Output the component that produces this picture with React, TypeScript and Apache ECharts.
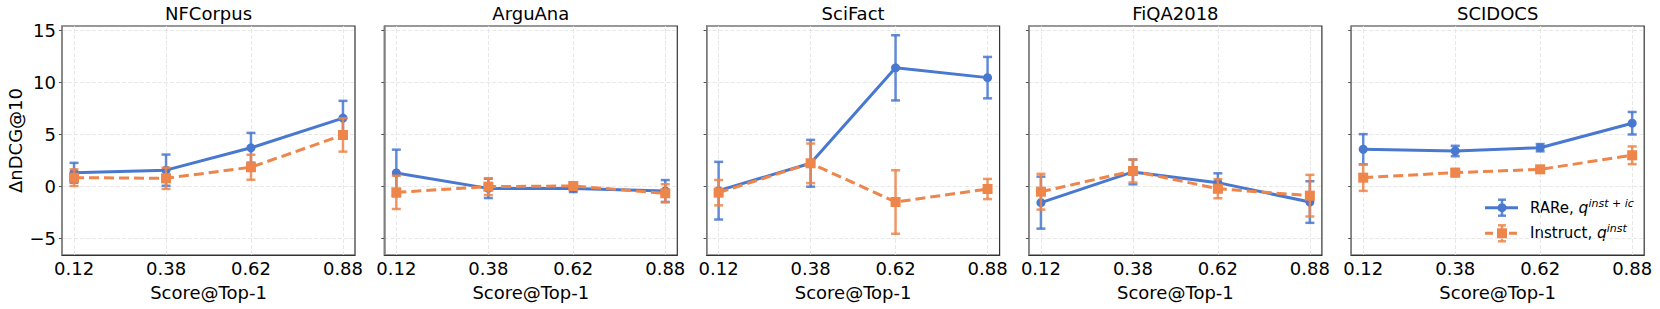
import React, { useEffect, useRef } from "react";
import * as echarts from "echarts";

const categories = [0.12, 0.38, 0.62, 0.88];
const yTicks = [-5, 0, 5, 10, 15];
const datasets = ["NFCorpus", "ArguAna", "SciFact", "FiQA2018", "SCIDOCS"];

const rareMean = [
  [1.3, 1.55, 3.7, 6.55],
  [1.28, -0.2, -0.2, -0.45],
  [-0.42, 2.21, 11.38, 10.44],
  [-1.57, 1.38, 0.35, -1.51],
  [3.56, 3.39, 3.71, 6.06],
];
const rareErr = [
  [0.95, 1.5, 1.43, 1.66],
  [2.24, 0.93, 0.35, 1.05],
  [2.77, 2.25, 3.13, 1.99],
  [2.5, 1.19, 0.9, 2.0],
  [1.45, 0.5, 0.35, 1.08],
];
const instMean = [
  [0.83, 0.77, 1.83, 4.93],
  [-0.58, -0.03, 0.03, -0.67],
  [-0.61, 2.21, -1.51, -0.26],
  [-0.52, 1.47, -0.23, -0.9],
  [0.83, 1.31, 1.63, 2.98],
];
const instErr = [
  [0.8, 1.02, 1.2, 1.6],
  [1.6, 0.81, 0.2, 0.87],
  [1.22, 1.9, 3.05, 0.97],
  [1.72, 1.1, 0.92, 2.0],
  [1.27, 0.35, 0.25, 0.85],
];

const BLUE = "#4878d0";
const ORANGE = "#ee854a";
const FONT = "DejaVu Sans";

const GRID_LEFT0 = 62;
const GRID_STEP = 322.3;
const GRID_W = 293;
const GRID_TOP = 26;
const GRID_H = 229;

function errRender(color: string) {
  return (params: any, api: any) => {
    const x = api.value(0);
    const lo = api.value(1);
    const hi = api.value(2);
    const p1 = api.coord([x, hi]);
    const p2 = api.coord([x, lo]);
    const w = 4.5;
    const st = { stroke: color, lineWidth: 2.5, opacity: 0.85 };
    return {
      type: "group",
      children: [
        { type: "line", shape: { x1: p1[0], y1: p1[1], x2: p2[0], y2: p2[1] }, style: st },
        { type: "line", shape: { x1: p1[0] - w, y1: p1[1], x2: p1[0] + w, y2: p1[1] }, style: st },
        { type: "line", shape: { x1: p2[0] - w, y1: p2[1], x2: p2[0] + w, y2: p2[1] }, style: st },
      ],
    };
  };
}

export default function App() {
  const ref = useRef<HTMLDivElement>(null);
  useEffect(() => {
    if (!ref.current) return;
    const chart = echarts.init(ref.current, null, { renderer: "svg" });
    const grids: any[] = [];
    const xAxes: any[] = [];
    const yAxes: any[] = [];
    const titles: any[] = [];
    const series: any[] = [];
    datasets.forEach((name, i) => {
      const left = GRID_LEFT0 + i * GRID_STEP;
      grids.push({
        left,
        top: GRID_TOP,
        width: GRID_W,
        height: GRID_H,
        show: true,
        borderColor: "#333",
        borderWidth: 1.2,
        backgroundColor: "transparent",
      });
      titles.push({
        text: name,
        left: left + GRID_W / 2,
        top: 4,
        textAlign: "center",
        padding: 0,
        textStyle: { fontFamily: FONT, fontSize: 18, fontWeight: "normal", color: "#000" },
      });
      xAxes.push({
        type: "value",
        gridIndex: i,
        min: 0.086,
        max: 0.914,
        name: "Score@Top-1",
        nameLocation: "middle",
        nameGap: 28,
        nameTextStyle: { fontFamily: FONT, fontSize: 18, color: "#000" },
        axisLine: { show: true, onZero: false, lineStyle: { color: "#333", width: 1.2 } },
        axisTick: { show: false, customValues: categories },
        axisLabel: {
          customValues: categories,
          formatter: (v: number) => v.toFixed(2),
          fontFamily: FONT,
          fontSize: 18,
          color: "#000",
          margin: 4,
        },
        splitLine: { show: false },
      });
      yAxes.push({
        type: "value",
        gridIndex: i,
        min: -6.6,
        max: 15.4,
        name: i === 0 ? "ΔnDCG@10" : "",
        nameLocation: "middle",
        nameRotate: 90,
        nameGap: 38,
        nameTextStyle: { fontFamily: FONT, fontSize: 18, color: "#000" },
        axisLine: { show: true, onZero: false, lineStyle: { color: "#8c8c8c", width: 1.6 } },
        axisTick: { show: true, length: 3, customValues: yTicks, lineStyle: { color: "#555", width: 1 } },
        axisLabel: {
          show: i === 0,
          customValues: yTicks,
          formatter: (v: number) => (v < 0 ? "\u2212" + Math.abs(v) : String(v)),
          fontFamily: FONT,
          fontSize: 18,
          color: "#000",
          margin: 6,
        },
        splitLine: { show: false },
      });
      // grid lines
      series.push({
        type: "line",
        xAxisIndex: i,
        yAxisIndex: i,
        data: [],
        silent: true,
        z: 0,
        markLine: {
          silent: true,
          symbol: "none",
          z: 0,
          label: { show: false },
          lineStyle: { color: "#e2e2e2", type: [4, 2], width: 0.8 },
          data: [
            ...categories.map((x) => ({ xAxis: x })),
            ...yTicks.map((y) => ({ yAxis: y })),
          ],
        },
      });
      const pairs = [
        { mean: rareMean[i], err: rareErr[i], color: BLUE, symbol: "circle", dashed: false, name: "RARe" },
        { mean: instMean[i], err: instErr[i], color: ORANGE, symbol: "rect", dashed: true, name: "Instruct" },
      ];
      pairs.forEach((p, k) => {
        series.push({
          type: "custom",
          xAxisIndex: i,
          yAxisIndex: i,
          z: 2 + k * 2,
          renderItem: errRender(p.color),
          encode: { x: 0, y: [1, 2] },
          data: categories.map((x, j) => [x, p.mean[j] - p.err[j], p.mean[j] + p.err[j]]),
          silent: true,
        });
        series.push({
          type: "line",
          name: p.name,
          xAxisIndex: i,
          yAxisIndex: i,
          z: 3 + k * 2,
          data: categories.map((x, j) => [x, p.mean[j]]),
          symbol: p.symbol,
          symbolSize: p.symbol === "circle" ? 9 : 10,
          showSymbol: true,
          itemStyle: { color: p.color },
          lineStyle: { color: p.color, width: 3, type: p.dashed ? [10, 5] : "solid" },
          silent: true,
        });
      });
    });

    const legendX = 1485;
    const legendRows = [
      { y: 207.7, color: BLUE, symbol: "circle", dashed: false, text: "RARe, {q|q}{sup|inst + ic}" },
      { y: 233.3, color: ORANGE, symbol: "rect", dashed: true, text: "Instruct, {q|q}{sup|inst}" },
    ];
    const graphic: any[] = [];
    legendRows.forEach((r) => {
      const cx = legendX + 17;
      graphic.push({
        type: "line",
        shape: { x1: legendX, y1: r.y, x2: legendX + 33, y2: r.y },
        style: { stroke: r.color, lineWidth: 3, lineDash: r.dashed ? [8, 4] : null },
      });
      graphic.push({
        type: "line",
        shape: { x1: cx, y1: r.y - 8, x2: cx, y2: r.y + 8 },
        style: { stroke: r.color, lineWidth: 2.5, opacity: 0.85 },
      });
      graphic.push({
        type: "line",
        shape: { x1: cx - 4, y1: r.y - 8, x2: cx + 4, y2: r.y - 8 },
        style: { stroke: r.color, lineWidth: 2.5, opacity: 0.85 },
      });
      graphic.push({
        type: "line",
        shape: { x1: cx - 4, y1: r.y + 8, x2: cx + 4, y2: r.y + 8 },
        style: { stroke: r.color, lineWidth: 2.5, opacity: 0.85 },
      });
      if (r.symbol === "circle") {
        graphic.push({ type: "circle", shape: { cx, cy: r.y, r: 4.5 }, style: { fill: r.color } });
      } else {
        graphic.push({ type: "rect", shape: { x: cx - 5, y: r.y - 5, width: 10, height: 10 }, style: { fill: r.color } });
      }
      graphic.push({
        type: "text",
        x: 1530,
        y: r.y,
        style: {
          text: r.text,
          fontFamily: FONT,
          fontSize: 15,
          fill: "#000",
          verticalAlign: "middle",
          rich: {
            q: { fontFamily: FONT, fontSize: 15.5, fontStyle: "italic", fill: "#000", lineHeight: 20, verticalAlign: "middle" },
            sup: { fontFamily: FONT, fontSize: 11, fontStyle: "italic", fill: "#000", lineHeight: 12, verticalAlign: "top" },
          },
        },
      });
    });

    chart.setOption({
      animation: false,
      backgroundColor: "#fff",
      title: titles,
      grid: grids,
      xAxis: xAxes,
      yAxis: yAxes,
      series,
      graphic,
    });
    return () => chart.dispose();
  }, []);
  return (
    <div
      ref={ref}
      style={{ position: "fixed", left: 0, top: 0, width: 1660, height: 309 }}
    />
  );
}
